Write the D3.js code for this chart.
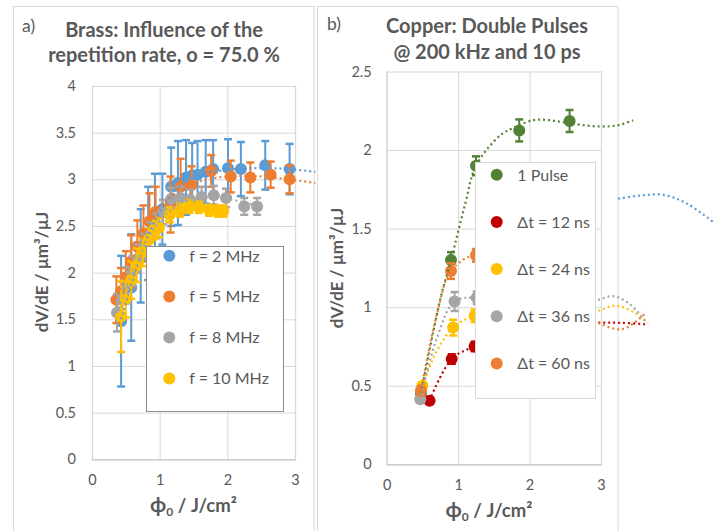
<!DOCTYPE html>
<html><head><meta charset="utf-8">
<script src="https://cdn.jsdelivr.net/npm/d3@7"></script>
<style>
body{margin:0;background:#fff}
svg{display:block}
text{font-family:Lato,"Open Sans",sans-serif}
</style>
</head><body>
<svg id="c" width="721" height="531"></svg>
<script>
// ---------- Panel a: Brass ----------
const seriesA = ["f = 2 MHz", "f = 5 MHz", "f = 8 MHz", "f = 10 MHz"];
const colorsA = ["#5B9BD5", "#ED7D31", "#A5A5A5", "#FFC000"];

const a2x = [0.43,0.58,0.72,0.83,0.93,1.04,1.17,1.27,1.39,1.48,1.56,1.68,1.79,2.01,2.20,2.56,2.92];
const a2y = [1.48,1.84,2.18,2.42,2.60,2.68,2.92,2.96,3.02,3.04,3.05,3.08,3.11,3.12,3.11,3.15,3.11];
const a2e = [0.70,0.57,0.50,0.50,0.46,0.38,0.42,0.45,0.40,0.35,0.36,0.34,0.31,0.31,0.29,0.26,0.27];

const a5x = [0.36,0.43,0.50,0.58,0.67,0.76,0.85,0.94,1.16,1.31,1.47,1.76,2.05,2.34,2.64,2.92];
const a5y = [1.71,1.80,1.95,2.12,2.28,2.42,2.55,2.65,2.73,2.92,2.94,3.09,3.03,3.02,3.05,3.00];
const a5e = [0.25,0.25,0.28,0.28,0.28,0.30,0.30,0.27,0.30,0.30,0.20,0.17,0.17,0.16,0.14,0.15];

const a8x = [0.37,0.45,0.52,0.60,0.68,0.77,0.86,0.95,1.05,1.17,1.31,1.45,1.62,1.80,1.98,2.25,2.44];
const a8y = [1.57,1.72,1.88,2.02,2.15,2.28,2.40,2.50,2.65,2.79,2.80,2.78,2.81,2.83,2.80,2.71,2.71];
const a8e = [0.20,0.18,0.18,0.16,0.15,0.14,0.14,0.13,0.13,0.12,0.12,0.11,0.11,0.10,0.10,0.09,0.09];

const a10x = [0.43,0.50,0.58,0.66,0.75,0.84,0.92,0.99,1.15,1.30,1.44,1.58,1.73,1.86,1.94];
const a10y = [1.53,1.72,1.92,2.08,2.22,2.35,2.46,2.48,2.62,2.67,2.71,2.70,2.67,2.66,2.66];
const a10e = [0.38,0.20,0.20,0.18,0.15,0.12,0.10,0.10,0.08,0.07,0.07,0.06,0.06,0.06,0.06];

// dotted trend lines
const trendA2x  = [0.43,0.70,1.00,1.30,1.60,2.00,2.50,2.92,3.30];
const trendA2y  = [1.50,2.15,2.65,2.92,3.05,3.10,3.12,3.11,3.08];
const trendA5x  = [0.36,0.70,1.00,1.30,1.60,2.00,2.50,2.92,3.30];
const trendA5y  = [1.72,2.32,2.70,2.88,2.98,3.03,3.03,3.00,2.96];
const trendA8x  = [0.37,0.70,1.00,1.30,1.60,2.00,2.44];
const trendA8y  = [1.57,2.18,2.55,2.74,2.80,2.79,2.72];
const trendA10x = [0.43,0.70,1.00,1.30,1.60,1.94];
const trendA10y = [1.55,2.18,2.50,2.64,2.69,2.66];

const xTicksA = [0,1,2,3];
const yTicksA = [0,0.5,1,1.5,2,2.5,3,3.5,4];

// ---------- Panel b: Copper ----------
const seriesB = ["1 Pulse", "\u0394t = 12 ns", "\u0394t = 24 ns", "\u0394t = 36 ns", "\u0394t = 60 ns"];
const colorsB = ["#548235", "#C00000", "#FFC000", "#A5A5A5", "#ED7D31"];

const b1x  = [0.48,0.90,1.25,1.855,2.56];
const b1y  = [0.45,1.30,1.90,2.125,2.185];
const b1e  = [0.03,0.05,0.06,0.07,0.07];
const b12x = [0.60,0.91,1.23];
const b12y = [0.405,0.67,0.75];
const b12e = [0.02,0.03,0.03];
const b24x = [0.50,0.93,1.23];
const b24y = [0.50,0.87,0.945];
const b24e = [0.02,0.05,0.04];
const b36x = [0.47,0.95,1.26];
const b36y = [0.414,1.036,1.06];
const b36e = [0.02,0.06,0.04];
const b60x = [0.48,0.90,1.25];
const b60y = [0.47,1.23,1.33];
const b60e = [0.03,0.05,0.04];

const trendB1x  = [0.48,0.75,0.90,1.10,1.25,1.58,1.77,2.05,2.28,2.56,2.98,3.26,3.45];
const trendB1y  = [0.45,1.05,1.30,1.66,1.90,2.09,2.14,2.19,2.19,2.17,2.15,2.16,2.19];
const trendB12x = [0.60,0.91,1.23,2.00,2.90,3.30,3.66];
const trendB12y = [0.405,0.67,0.75,0.85,0.90,0.90,0.89];
const trendB24x = [0.50,0.70,0.93,1.23,2.00,2.90,3.20,3.45,3.66];
const trendB24y = [0.50,0.72,0.87,0.945,0.97,0.97,1.01,0.97,0.90];
const trendB36x = [0.47,0.70,0.95,1.26,2.00,2.90,3.17,3.40,3.64];
const trendB36y = [0.414,0.80,1.036,1.06,1.00,1.04,1.07,1.02,0.90];
const trendB60x = [0.48,0.70,0.90,1.25,1.80,2.40,2.90,3.30,3.64];
const trendB60y = [0.47,0.95,1.23,1.33,1.20,1.00,0.91,0.86,0.97];
// stray blue dotted curve at the right edge of the figure
const strayX = [3.24,3.55,3.87,4.20,4.59];
const strayY = [1.69,1.71,1.715,1.66,1.535];

const xTicksB = [0,1,2,3];
const yTicksB = [0,0.5,1,1.5,2,2.5];

// ---------- drawing ----------
const svg = d3.select("#c");
const TXT = "#595959", GRID = "#d9d9d9";

function zip(xs, ys, es) { return xs.map((x,i)=>({x, y:ys[i], e: es ? es[i] : 0})); }

function panel(o) {
  const g = svg.append("g");
  const x = d3.scaleLinear().domain([0,3]).range(o.xr);
  const y = d3.scaleLinear().domain(o.yd).range(o.yr);
  const w = o.xr[1]-o.xr[0], h = o.yr[0]-o.yr[1];
  const ya = g.append("g").attr("transform",`translate(${o.xr[0]},0)`)
    .call(d3.axisLeft(y).tickValues(o.yt).tickSize(-w).tickPadding(o.ypad).tickFormat(d=>String(d)));
  ya.select(".domain").remove();
  ya.selectAll("line").attr("stroke",GRID).attr("stroke-width",1);
  ya.selectAll("text").attr("fill",TXT).style("font-size","14.5px");
  const xa = g.append("g").attr("transform",`translate(0,${o.yr[0]})`)
    .call(d3.axisBottom(x).tickValues(o.xt).tickSize(-h).tickPadding(15).tickFormat(d=>String(d)));
  xa.select(".domain").attr("stroke","#c8c8c8").attr("stroke-width",1.2);
  xa.selectAll("line").attr("stroke",GRID).attr("stroke-width",1);
  xa.selectAll("text").attr("fill",TXT).style("font-size","14.5px");
  o.series.forEach((s,i)=>{
    const c = o.colors[i];
    const sg = g.append("g");
    sg.selectAll("line.eb").data(s).join("line").attr("class","eb")
      .attr("x1",d=>x(d.x)).attr("x2",d=>x(d.x))
      .attr("y1",d=>y(d.y-d.e)).attr("y2",d=>y(d.y+d.e))
      .attr("stroke",c).attr("stroke-width",2);
    [1,-1].forEach(sgn=>{
      sg.selectAll("line.cap"+(sgn>0?"p":"m")).data(s).join("line").attr("class","cap"+(sgn>0?"p":"m"))
        .attr("x1",d=>x(d.x)-4).attr("x2",d=>x(d.x)+4)
        .attr("y1",d=>y(d.y+sgn*d.e)).attr("y2",d=>y(d.y+sgn*d.e))
        .attr("stroke",c).attr("stroke-width",2.5);
    });
    sg.selectAll("circle").data(s).join("circle")
      .attr("cx",d=>x(d.x)).attr("cy",d=>y(d.y)).attr("r",6).attr("fill",c);
  });
  const line = d3.line().x(d=>x(d.x)).y(d=>y(d.y)).curve(d3.curveCatmullRom.alpha(0.5));
  o.trends.forEach((t,i)=>{
    g.append("path").attr("d",line(t)).attr("fill","none")
      .attr("stroke",o.trendColors[i]).attr("stroke-width",2.2)
      .attr("stroke-dasharray","2 3");
  });
  return {g,x,y};
}

// panel frames
svg.append("rect").attr("x",13.5).attr("y",6.5).attr("width",300.5).attr("height",560)
  .attr("fill","none").attr("stroke",GRID);
svg.append("rect").attr("x",317.5).attr("y",6.5).attr("width",300.5).attr("height",560)
  .attr("fill","none").attr("stroke",GRID);

panel({
  xr:[92,295], yr:[459.3,86], yd:[0,4], xt:xTicksA, yt:yTicksA, ypad:16,
  series:[zip(a2x,a2y,a2e),zip(a5x,a5y,a5e),zip(a8x,a8y,a8e),zip(a10x,a10y,a10e)],
  colors:colorsA,
  trends:[zip(trendA2x,trendA2y),zip(trendA5x,trendA5y),zip(trendA8x,trendA8y),zip(trendA10x,trendA10y)],
  trendColors:colorsA
});

panel({
  xr:[386.7,601], yr:[464.3,71.5], yd:[0,2.5], xt:xTicksB, yt:yTicksB, ypad:15,
  series:[zip(b1x,b1y,b1e),zip(b12x,b12y,b12e),zip(b24x,b24y,b24e),zip(b36x,b36y,b36e),zip(b60x,b60y,b60e)],
  colors:colorsB,
  trends:[zip(trendB1x,trendB1y),zip(trendB12x,trendB12y),zip(trendB24x,trendB24y),zip(trendB36x,trendB36y),zip(trendB60x,trendB60y),zip(strayX,strayY)],
  trendColors:colorsB.concat(["#5B9BD5"])
});

// legends
function legend(x0,y0,w,h,stroke,names,cols,cx,cy0,dy,tx){
  const g = svg.append("g");
  g.append("rect").attr("x",x0+0.5).attr("y",y0+0.5).attr("width",w).attr("height",h)
    .attr("fill","#fff").attr("stroke",stroke);
  names.forEach((n,i)=>{
    g.append("circle").attr("cx",cx).attr("cy",cy0+i*dy).attr("r",6).attr("fill",cols[i]);
    g.append("text").attr("x",tx).attr("y",cy0+i*dy+5.8).text(n)
      .attr("fill",TXT).style("font-size","16px");
  });
}
legend(146,246,137,165,"#8c8c8c",seriesA,colorsA,169.3,255.7,40.9,189.3);
legend(475,162,120,236,GRID,seriesB,colorsB,496.7,174.7,47.2,517.3);

// titles and labels
function t(x,y,s,size,bold,anchor){
  return svg.append("text").attr("x",x).attr("y",y).text(s).attr("fill",TXT)
    .style("font-size",size+"px").style("font-weight",bold?"bold":"normal")
    .attr("text-anchor",anchor||"start");
}
t(22,32,"a)",17.5,false);
t(327,30,"b)",17.5,false);
t(164,37,"Brass: Influence of the",20,true,"middle");
t(164,62,"repetition rate, o = 75.0 %",20,true,"middle");
t(487,33,"Copper: Double Pulses",20,true,"middle");
t(487,59,"@ 200 kHz and 10 ps",20,true,"middle");

function xTitle(cx,by){
  const tx = svg.append("text").attr("x",cx).attr("y",by).attr("text-anchor","middle")
    .attr("fill",TXT).style("font-size","18.5px").style("font-weight","bold");
  tx.append("tspan").text("\u03D5").style("font-size","21px");
  tx.append("tspan").text("0").attr("dy",4).style("font-size","12px");
  tx.append("tspan").text(" / J/cm\u00B2").attr("dy",-4);
}
xTitle(193.5,511.7);
xTitle(489,516.7);

function yTitle(bx,cy){
  svg.append("text").attr("transform",`translate(${bx},${cy}) rotate(-90)`)
    .attr("text-anchor","middle").attr("fill",TXT)
    .style("font-size","17px").style("font-weight","bold")
    .text("dV/dE / \u00B5m\u00B3/\u00B5J");
}
yTitle(48,272);
yTitle(343,268);
</script>
</body></html>
